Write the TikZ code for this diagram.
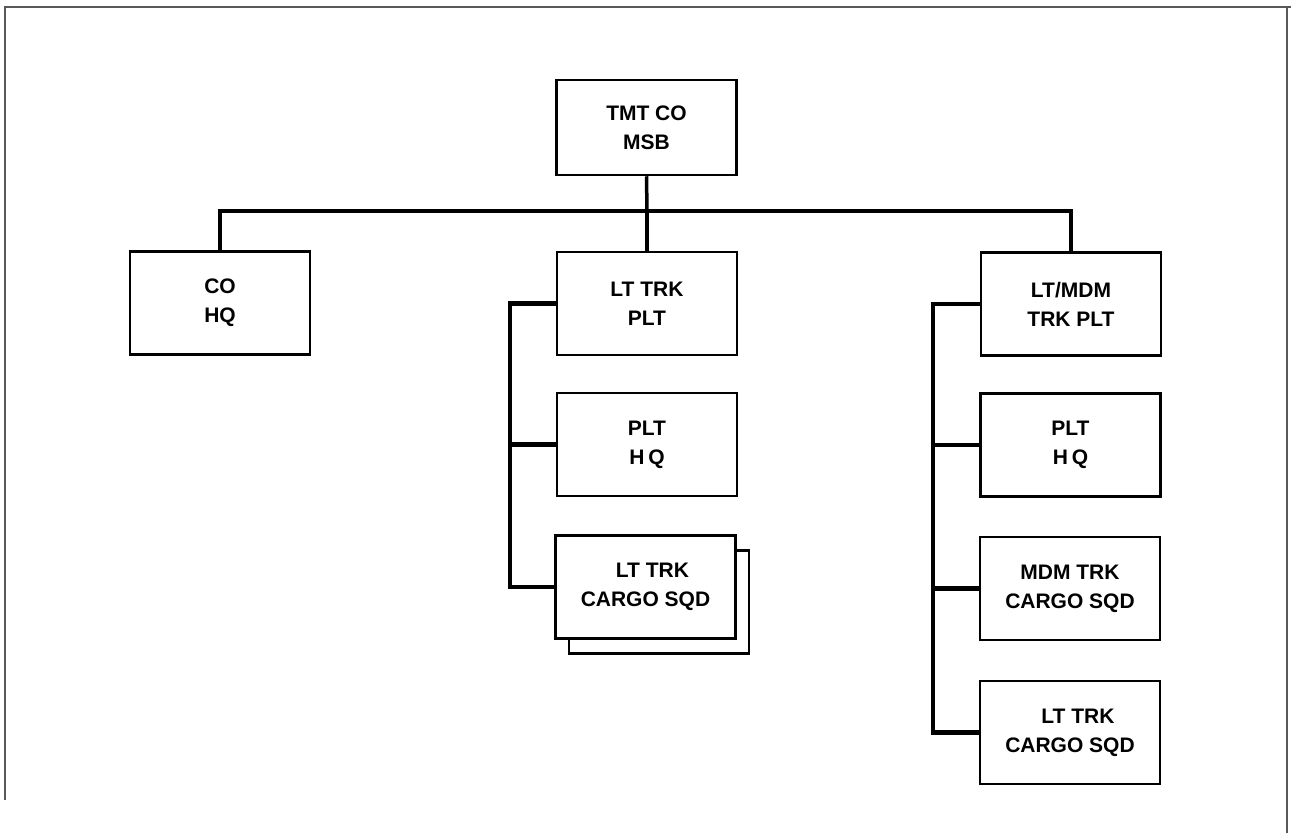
\documentclass[tikz,border=0pt]{standalone}
\usepackage{fontspec}
\setmainfont{Liberation Sans}
\begin{document}
\begin{tikzpicture}[x=1pt,y=-1pt,
  unit/.style={draw,line width=2.5pt,fill=white,rectangle,minimum width=180pt,minimum height=103pt,
    align=center,font=\fontsize{21}{29}\selectfont\bfseries,inner sep=0pt},
  bus/.style={line width=3.5pt},
  branch/.style={line width=4.5pt},
  frame/.style={black!65,line width=1.5pt}]
\useasboundingbox (0,0) rectangle (1291,833);
% frame
\draw[frame] (5,800) -- (5,7) -- (1291,7);
\draw[frame] (1287,7) -- (1287,833);
% nodes
\node[unit,minimum height=95pt] (top) at (646.5,127.5) {TMT CO\\MSB};
\node[unit] (cohq) at (220,303) {CO\\HQ};
\node[unit] (ltplt) at (647,303.5) {LT TRK\\PLT};
\node[unit] (plthq1) at (647,444.5) {PLT\\H\kern4pt Q};
\node[unit] (shadow) at (659,602) {};
\node[unit] (cargo1) at (645.5,587) {\hspace*{14pt}LT TRK\\CARGO SQD};
\node[unit] (mdmplt) at (1071,304) {LT/MDM\\TRK PLT};
\node[unit] (plthq2) at (1070.5,445) {PLT\\H\kern4pt Q};
\node[unit] (mdmcargo) at (1070,588.5) {MDM TRK\\CARGO SQD};
\node[unit] (ltcargo2) at (1070,732.5) {\hspace*{16pt}LT TRK\\CARGO SQD};
% bus
\coordinate (busl) at (220,211);
\coordinate (busr) at (1071,211);
\coordinate (busm) at (647,211);
\draw[bus] (busl) -- (busr);
\draw[line width=3.5pt] (top.south) -- (busm);
\draw[branch] (busm) -- (ltplt.north);
\draw[branch] ([yshift=1.75pt]busl) -- (cohq.north);
\draw[branch] ([yshift=1.75pt]busr) -- (mdmplt.north);
% middle column branch
\coordinate (mx) at (510,0);
\draw[branch,line join=miter] (ltplt.west) -- (ltplt.west -| mx) -- (cargo1.west -| mx) -- (cargo1.west);
\draw[branch] (plthq1.west) -- (plthq1.west -| mx);
% right column branch
\coordinate (rx) at (933,0);
\draw[branch,line join=miter] (mdmplt.west) -- (mdmplt.west -| rx) -- (ltcargo2.west -| rx) -- (ltcargo2.west);
\draw[branch] (plthq2.west) -- (plthq2.west -| rx);
\draw[branch] (mdmcargo.west) -- (mdmcargo.west -| rx);
\end{tikzpicture}
\end{document}
